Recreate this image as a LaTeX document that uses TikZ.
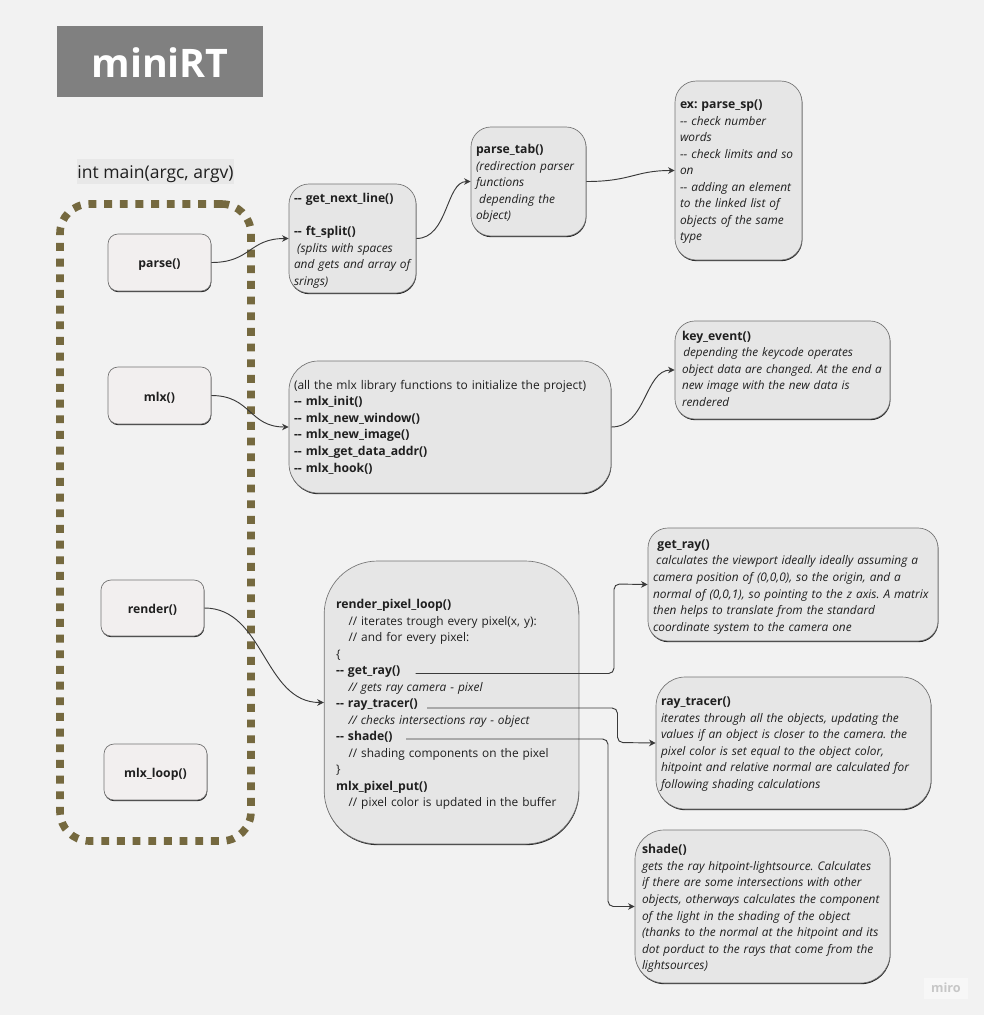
\documentclass[tikz,border=0pt]{standalone}
\usepackage{fontspec}
\setmainfont{Open Sans}
\usetikzlibrary{shadows,arrows.meta}
\definecolor{bgc}{HTML}{F2F2F2}
\definecolor{boxc}{HTML}{E6E6E6}
\definecolor{callc}{HTML}{F2EFEF}
\definecolor{framec}{HTML}{75693F}
\definecolor{ink}{HTML}{1F1F1F}
\definecolor{linec}{HTML}{3A3A3A}
\definecolor{labelc}{HTML}{E8E8E8}
\newcommand{\ct}[1]{\mbox{\textit{#1}}}
\newcommand{\tb}[1]{\mbox{\fontsize{9.15}{12.4}\selectfont\textbf{#1}}}
\newcommand{\ind}{\hspace*{9.3pt}}
\newcommand{\sm}{\hspace*{2.4pt}}
\newcommand{\dd}{-\kern0pt-}
\newcommand{\up}[1]{\rule[-#1]{0pt}{#1}}
\tikzset{
  x=0.75pt,y=-0.75pt,
  every node/.style={text=ink,font=\fontsize{8.9}{12.4}\selectfont\frenchspacing},
  base/.style={draw=black!55,line width=0.5pt,drop shadow={shadow xshift=0.3pt,shadow yshift=-0.9pt,fill=black!85,opacity=1}},
  shifted/.style={execute at begin node={\rule{0pt}{10pt}}},
  callbox/.style={base,shifted,fill=callc,rounded corners=7.5pt,align=center,inner sep=0pt,text width=77.25pt},
  textbox/.style={base,shifted,fill=boxc,align=left,inner ysep=0pt},
  conn/.style={draw=linec,line width=0.7pt,-{Stealth[length=5pt,width=5pt]}},
}
\begin{document}
\begin{tikzpicture}
\useasboundingbox[fill=bgc] (0,0) rectangle (984,1015);
\node[fill=black!50,text=white,minimum width=154.5pt,minimum height=53.25pt,inner sep=0pt,font=\fontsize{29.5}{36}\selectfont\bfseries] (title) at (160,61.5) {\rule{0pt}{24.5pt}miniRT};
\node[fill=labelc,minimum width=117.75pt,minimum height=18.75pt,inner sep=0pt,font=\fontsize{13.15}{18}\selectfont] (mainlabel) at (155.5,171.5) {\rule{0pt}{14pt}int main(argc, argv)};
\node[draw=framec,line width=5.7pt,dash pattern=on 5.9pt off 5.85pt,rounded corners=22pt,minimum width=143.25pt,minimum height=477.75pt,inner sep=0pt] (frame) at (155.5,522.5) {};

\node[callbox,minimum height=42.75pt] (parse) at (159.5,262.5) {\tb{parse()}};
\node[callbox,minimum height=42.75pt] (mlx) at (159.5,395.5) {\tb{mlx()}};
\node[callbox,minimum height=42pt] (render) at (152.5,608) {\tb{render()}};
\node[callbox,minimum height=42pt] (mlxloop) at (155.5,772) {\tb{mlx\_loop()}};

\node[textbox,rounded corners=15pt,inner xsep=3.75pt,text width=87.75pt,minimum height=81.75pt] (gnl) at (352.5,238.5) {\tb{\dd{} get\_next\_line()}\\[12.4pt]\tb{\dd{} ft\_split()}\\\ct{\sm(splits with spaces}\\\ct{and gets and array of}\\\ct{srings)}};
\node[textbox,rounded corners=15pt,inner xsep=3.75pt,text width=78.75pt,minimum height=81.75pt] (tab) at (528.5,181.5) {\tb{parse\_tab()}\\\ct{(redirection parser}\\\ct{functions}\\\ct{\sm depending the}\\\ct{object)}};
\node[textbox,rounded corners=16pt,inner xsep=3.75pt,text width=87.75pt,minimum height=134.25pt] (sp) at (738.5,170.5) {\tb{ex: parse\_sp()}\\\ct{\dd{} check number}\\\ct{words}\\\ct{\dd{} check limits and so}\\\ct{on}\\\ct{\dd{} adding an element}\\\ct{to the linked list of}\\\ct{objects of the same}\\\ct{type}\up{3.5pt}};
\node[textbox,rounded corners=22pt,inner xsep=3.75pt,text width=234pt,minimum height=99pt] (init) at (450,427) {\mbox{\fontsize{8.98}{12.4}\selectfont(all the mlx library functions to initialize the project)}\\\tb{\dd{} mlx\_init()}\\\tb{\dd{} mlx\_new\_window()}\\\tb{\dd{} mlx\_new\_image()}\\\tb{\dd{} mlx\_get\_data\_addr()}\\\tb{\dd{} mlx\_hook()}\up{4.5pt}};
\node[textbox,rounded corners=15pt,inner xsep=5.25pt,text width=150.75pt,minimum height=73.5pt,font=\fontsize{8.8}{12.4}\selectfont\frenchspacing] (key) at (782.5,370) {\tb{key\_event()}\\\ct{\hspace*{1pt}depending the keycode operates}\\\ct{object data are changed. At the end a}\\\ct{new image with the new data is}\\\ct{rendered}\up{5pt}};
\node[textbox,rounded corners=40pt,inner xsep=9pt,text width=173pt,minimum height=212.25pt] (loop) at (451.5,702.5) {\tb{render\_pixel\_loop()}\\\ind// iterates trough every pixel(x, y):\\\ind// and for every pixel:\\\{\\\tb{\dd{} get\_ray()}\\\ind\ct{// gets ray camera - pixel}\\\tb{\dd{} ray\_tracer()}\\\ind\ct{// checks intersections ray - object}\\\tb{\dd{} shade()}\\\ind// shading components on the pixel\\\}\\\tb{mlx\_pixel\_put()}\\\ind// pixel color is updated in the buffer};
\node[textbox,rounded corners=15pt,inner xsep=3.75pt,text width=210pt,minimum height=84.75pt] (ray) at (793,584.5) {\hspace*{3.3pt}\tb{get\_ray()}\\\ct{\sm calculates the viewport ideally ideally assuming a}\\\ct{camera position of (0,0,0), so the origin, and a}\\\ct{normal of (0,0,1), so pointing to the z axis. A matrix}\\\ct{then helps to translate from the standard}\\\ct{coordinate system to the camera one}};
\node[textbox,rounded corners=22pt,inner xsep=3.75pt,text width=198.75pt,minimum height=99pt] (tracer) at (793.5,743) {\tb{ray\_tracer()}\\\ct{iterates through all the objects, updating the}\\\ct{values if an object is closer to the camera. the}\\\ct{pixel color is set equal to the object color,}\\\ct{hitpoint and relative normal are calculated for}\\\ct{following shading calculations}\up{4pt}};
\node[textbox,rounded corners=22pt,inner xsep=5.25pt,text width=180.75pt,minimum height=114.75pt] (shade) at (762.5,906.5) {\tb{shade()}\\\ct{gets the ray hitpoint-lightsource. Calculates}\\\ct{if there are some intersections with other}\\\ct{objects, otherways calculates the component}\\\ct{of the light in the shading of the object}\\\ct{(thanks to the normal at the hitpoint and its}\\\ct{dot porduct to the rays that come from the}\\\ct{lightsources)}};
\node[fill=black!3,text=black!22,minimum width=33pt,minimum height=15.75pt,inner sep=0pt,font=\fontsize{9.5}{12}\selectfont\bfseries] (miro) at (946,988) {miro};

\coordinate (rayout) at (415.5,673.5);
\coordinate (tracerout) at (427,708);
\coordinate (shadeout) at (406,739);

\draw[conn] (parse.east) .. controls +(40,0) and +(-40,0) .. (gnl.west);
\draw[conn] (gnl.east) .. controls +(32,0) and +(-25,0) .. (tab.west);
\draw[conn] (tab.east) .. controls +(45,0) and +(-40,0) .. (sp.west);
\draw[conn] (mlx.east) .. controls +(40,0) and +(-40,0) .. (init.west);
\draw[conn] (init.east) .. controls +(35,0) and +(-30,0) .. (key.west);
\draw[conn] (render.east) .. controls +(60,0) and +(-60,0) .. (loop.west);
\draw[conn,rounded corners=4pt] (rayout) -| (614,584) -- (ray.west);
\draw[conn,rounded corners=4pt] (tracerout) -| (617.5,742.5) -- (tracer.west);
\draw[conn,rounded corners=4pt] (shadeout) -| (608,906.5) -- (shade.west);
\end{tikzpicture}
\end{document}
